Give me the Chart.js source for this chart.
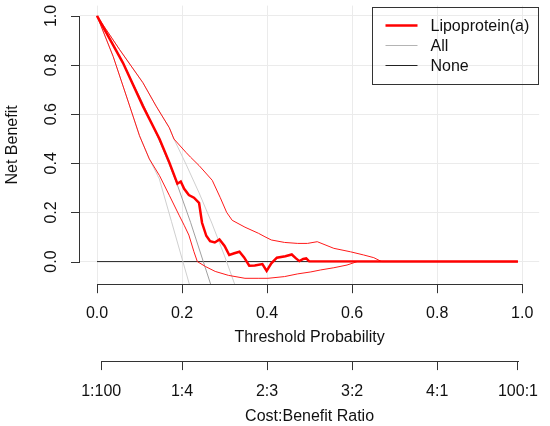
<!DOCTYPE html>
<html>
<head>
<meta charset="utf-8">
<script src="https://cdn.jsdelivr.net/npm/chart.js@4.4.1/dist/chart.umd.min.js"></script>
<style>
  html, body { margin: 0; padding: 0; background: #fff; }
</style>
</head>
<body>
<canvas id="dca" width="550" height="426"></canvas>
<script>
const FONT = '"Liberation Sans", Arial, sans-serif';

// axis ticks
const probTicks = [0, 0.2, 0.4, 0.6, 0.8, 1.0];
const benefitTicks = [0, 0.2, 0.4, 0.6, 0.8, 1.0];
const ratioTicks = [0.0099, 0.2, 0.4, 0.6, 0.8, 0.9901];
const ratioLabels = ['1:100', '1:4', '2:3', '3:2', '4:1', '100:1'];

// Lipoprotein(a) net benefit
const lpaX = [0, 0.061, 0.108, 0.147, 0.17, 0.189, 0.197, 0.205, 0.216, 0.228, 0.24, 0.247, 0.257,
  0.266, 0.277, 0.288, 0.3, 0.311, 0.323, 0.335, 0.346, 0.358, 0.371, 0.389, 0.399, 0.41, 0.423,
  0.443, 0.458, 0.468, 0.476, 0.485, 0.492, 0.499, 0.99];
const lpaY = [1, 0.809, 0.633, 0.499, 0.404, 0.317, 0.326, 0.296, 0.271, 0.26, 0.239, 0.158, 0.105,
  0.083, 0.078, 0.09, 0.064, 0.027, 0.034, 0.04, 0.017, -0.017, -0.016, -0.01, -0.038, -0.007, 0.016,
  0.022, 0.029, 0.013, 0.002, 0.011, 0.013, 0.001, 0];
const lpaUpperX = [0, 0.0535, 0.108, 0.139, 0.17, 0.181, 0.209, 0.22, 0.24, 0.271, 0.29, 0.305, 0.318,
  0.348, 0.38, 0.395, 0.41, 0.441, 0.472, 0.495, 0.518, 0.557, 0.596, 0.627, 0.651, 0.666, 0.67, 0.99];
const lpaUpperY = [1, 0.862, 0.728, 0.633, 0.545, 0.499, 0.445, 0.425, 0.391, 0.331, 0.26, 0.2, 0.168,
  0.14, 0.115, 0.101, 0.088, 0.078, 0.074, 0.074, 0.081, 0.054, 0.04, 0.027, 0.016, 0.003, 0, 0];
const lpaLowerX = [0, 0.038, 0.069, 0.1, 0.123, 0.147, 0.17, 0.193, 0.205, 0.216, 0.228, 0.236, 0.255,
  0.278, 0.309, 0.348, 0.379, 0.402, 0.441, 0.472, 0.503, 0.526, 0.557, 0.588, 0.612, 0.99];
const lpaLowerY = [1, 0.835, 0.674, 0.512, 0.418, 0.35, 0.27, 0.189, 0.148, 0.108, 0.04, 0, -0.02,
  -0.04, -0.056, -0.068, -0.068, -0.068, -0.061, -0.05, -0.042, -0.034, -0.025, -0.014, 0, 0];

// treat all
const allX = [0, 0.061, 0.108, 0.147, 0.17, 0.189, 0.22, 0.25, 0.28];
const allY = [1, 0.809, 0.642, 0.491, 0.395, 0.312, 0.16, 0, -0.16];
const allUpperX = [0, 0.0535, 0.108, 0.139, 0.17, 0.181, 0.21, 0.24, 0.27, 0.3, 0.33];
const allUpperY = [1, 0.862, 0.728, 0.633, 0.545, 0.499, 0.394, 0.28, 0.157, 0.023, -0.122];
const allLowerX = [0, 0.038, 0.069, 0.1, 0.123, 0.1465, 0.175, 0.202, 0.23];
const allLowerY = [1, 0.835, 0.674, 0.512, 0.418, 0.337, 0.164, 0, -0.17];

// treat none
const noneX = [0, 0.99];
const noneY = [0, 0];

function pts(xs, ys) {
  return xs.map((x, i) => ({ x: x, y: ys[i] }));
}

function lineSet(label, xs, ys, color, width) {
  return {
    label: label,
    data: pts(xs, ys),
    borderColor: color,
    backgroundColor: color,
    borderWidth: width,
    pointRadius: 0,
    showLine: true,
    fill: false,
    tension: 0
  };
}

// draws R-style axis lines, rotated y labels and boxed legend
const rStyle = {
  id: 'rStyle',
  afterDraw(chart) {
    const { ctx, chartArea, scales } = chart;
    const x = scales.x, x2 = scales.x2, y = scales.y;
    const axisX = Math.round(chartArea.left) - 1;
    const yTop = Math.round(y.getPixelForValue(benefitTicks[benefitTicks.length - 1]));
    const yBot = Math.round(y.getPixelForValue(benefitTicks[0]));
    ctx.save();
    ctx.fillStyle = '#333';
    // y axis line and tick marks
    ctx.fillRect(axisX, yTop, 1, yBot - yTop + 1);
    benefitTicks.forEach(v => {
      ctx.fillRect(axisX - 8, Math.round(y.getPixelForValue(v)), 8, 1);
    });
    // x axis lines between first and last ticks
    const x0 = Math.round(x.getPixelForValue(probTicks[0]));
    const x1 = Math.round(x.getPixelForValue(probTicks[probTicks.length - 1]));
    ctx.fillRect(x0, Math.round(x.top), x1 - x0 + 1, 1);
    const r0 = Math.round(x2.getPixelForValue(ratioTicks[0]));
    const r1 = Math.round(x2.getPixelForValue(ratioTicks[ratioTicks.length - 1]));
    ctx.fillRect(r0, Math.round(x2.top), r1 - r0 + 1, 1);

    ctx.fillStyle = '#111';
    ctx.font = '16px ' + FONT;
    ctx.textAlign = 'center';
    ctx.textBaseline = 'middle';
    benefitTicks.forEach(v => {
      ctx.save();
      ctx.translate(chartArea.left - 28, y.getPixelForValue(v));
      ctx.rotate(-Math.PI / 2);
      ctx.fillText(v.toFixed(1), 0, 0);
      ctx.restore();
    });

    // legend
    const items = chart.data.datasets.filter(d => d.label);
    const bx = Math.round(chartArea.right) - 166.5, by = Math.round(chartArea.top) + 1.5;
    ctx.strokeStyle = '#333';
    ctx.lineWidth = 1;
    ctx.strokeRect(bx, by, 166, 77);
    ctx.textAlign = 'left';
    items.forEach((d, i) => {
      const ly = by + 18 + i * 20;
      ctx.beginPath();
      ctx.strokeStyle = d.legendColor || d.borderColor;
      ctx.lineWidth = d.borderWidth;
      ctx.moveTo(bx + 13, ly);
      ctx.lineTo(bx + 45, ly);
      ctx.stroke();
      ctx.fillStyle = '#111';
      ctx.fillText(d.label, bx + 58, ly + 1);
    });
    ctx.restore();
  }
};

const tickFont = { size: 16, family: FONT };

const datasets = [
  lineSet('Lipoprotein(a)', lpaX, lpaY, '#ff0000', 2.5),
  lineSet('', lpaUpperX, lpaUpperY, '#ff1a1a', 1),
  lineSet('', lpaLowerX, lpaLowerY, '#ff1a1a', 1),
  lineSet('All', allX, allY, '#a0a0a0', 1),
  lineSet('', allUpperX, allUpperY, '#cfcfcf', 1),
  lineSet('', allLowerX, allLowerY, '#cfcfcf', 1),
  lineSet('None', noneX, noneY, '#222222', 1)
];
datasets[3].legendColor = '#b4b4b4';

new Chart(document.getElementById('dca'), {
  type: 'scatter',
  data: { datasets: datasets },
  options: {
    responsive: false,
    animation: false,
    layout: { padding: { left: 0, top: 5.6, right: 5, bottom: 0 } },
    plugins: { legend: { display: false }, tooltip: { enabled: false } },
    scales: {
      x: {
        type: 'linear', position: 'bottom', weight: 0, min: -0.04, max: 1.04,
        afterBuildTicks: s => { s.ticks = probTicks.map(v => ({ value: v })); },
        border: { display: false },
        grid: { color: '#ebebeb', tickColor: '#333', tickLength: 9, drawTicks: true },
        ticks: { font: tickFont, color: '#111', padding: 10.5, maxRotation: 0, autoSkip: false,
          callback: v => Number(v).toFixed(1) },
        title: { display: true, text: 'Threshold Probability', font: tickFont, color: '#111',
          padding: { top: -5, bottom: 13.5 } }
      },
      x2: {
        type: 'linear', position: 'bottom', weight: 1, min: -0.04, max: 1.04,
        afterBuildTicks: s => { s.ticks = ratioTicks.map(v => ({ value: v })); },
        border: { display: false },
        grid: { drawOnChartArea: false, tickColor: '#333', tickLength: 9, drawTicks: true },
        ticks: { font: tickFont, color: '#111', padding: 11.5, maxRotation: 0, autoSkip: false,
          callback: (v, i) => ratioLabels[i] },
        title: { display: true, text: 'Cost:Benefit Ratio', font: tickFont, color: '#111',
          padding: { top: -5.5, bottom: 0 } }
      },
      y: {
        type: 'linear', position: 'left', min: -0.092, max: 1.042,
        afterBuildTicks: s => { s.ticks = benefitTicks.map(v => ({ value: v })); },
        border: { display: false },
        grid: { color: '#ebebeb', drawTicks: false },
        ticks: { display: false },
        title: { display: true, text: 'Net Benefit', font: tickFont, color: '#111',
          padding: { top: 3, bottom: 57.8 } }
      }
    }
  },
  plugins: [rStyle]
});
</script>
</body>
</html>
